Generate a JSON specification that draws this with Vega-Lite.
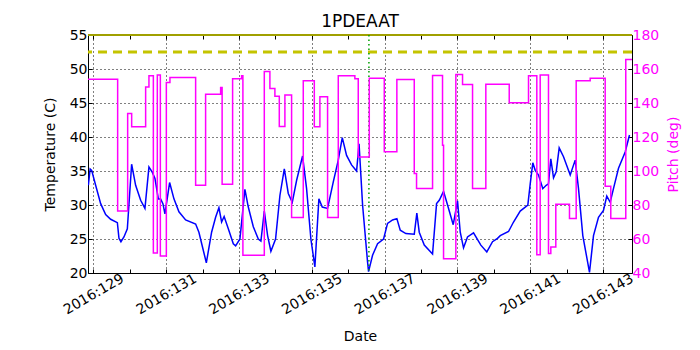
{
  "$schema": "https://vega.github.io/schema/vega-lite/v6.json",
  "width": 544,
  "height": 238,
  "autosize": "none",
  "padding": {"left": 88, "top": 35, "right": 68, "bottom": 77},
  "config": {
    "font": "DejaVu Sans",
    "view": {"stroke": "black", "strokeWidth": 1},
    "axis": {"domain": false, "labelFont": "DejaVu Sans", "titleFont": "DejaVu Sans", "labelFontSize": 14, "titleFontSize": 14, "titleFontWeight": "normal", "labelColor": "black", "titleColor": "black", "tickColor": "black", "labelOverlap": false},
    "axisX": {
      "values": [129, 130, 131, 132, 133, 134, 135, 136, 137, 138, 139, 140, 141, 142, 143],
      "tickSize": -4, "labelFlush": false
    }
  },
  "title": {"text": "1PDEAAT", "fontSize": 17, "fontWeight": "normal", "offset": 0, "dy": 3, "color": "black", "font": "DejaVu Sans"},
  "datasets": {
    "temp": [
      {"day": 128.86, "temp": 32.9}, {"day": 128.909, "temp": 35.3}, {"day": 128.951, "temp": 35.1}, {"day": 129.06, "temp": 32.9},
      {"day": 129.198, "temp": 30.2}, {"day": 129.335, "temp": 28.6}, {"day": 129.473, "temp": 27.9}, {"day": 129.657, "temp": 27.4},
      {"day": 129.701, "temp": 25.1}, {"day": 129.755, "temp": 24.6}, {"day": 129.838, "temp": 25.3}, {"day": 129.931, "temp": 26.5},
      {"day": 130.049, "temp": 36.0}, {"day": 130.159, "temp": 32.9}, {"day": 130.297, "temp": 30.7}, {"day": 130.415, "temp": 29.5},
      {"day": 130.525, "temp": 35.6}, {"day": 130.618, "temp": 34.8}, {"day": 130.69, "temp": 33.9}, {"day": 130.783, "temp": 30.9},
      {"day": 130.846, "temp": 30.9}, {"day": 130.909, "temp": 30.2}, {"day": 130.964, "temp": 28.7}, {"day": 131.093, "temp": 33.3},
      {"day": 131.212, "temp": 30.9}, {"day": 131.349, "temp": 29.0}, {"day": 131.533, "temp": 27.8}, {"day": 131.808, "temp": 27.2},
      {"day": 131.898, "temp": 26.0}, {"day": 132.102, "temp": 21.5}, {"day": 132.247, "temp": 26.0}, {"day": 132.357, "temp": 28.2},
      {"day": 132.448, "temp": 29.6}, {"day": 132.522, "temp": 27.5}, {"day": 132.591, "temp": 28.3}, {"day": 132.706, "temp": 26.5},
      {"day": 132.843, "temp": 24.3}, {"day": 132.907, "temp": 24.0}, {"day": 133.025, "temp": 25.0}, {"day": 133.162, "temp": 32.3},
      {"day": 133.255, "temp": 29.7}, {"day": 133.393, "temp": 26.8}, {"day": 133.53, "temp": 25.0}, {"day": 133.602, "temp": 24.7},
      {"day": 133.695, "temp": 29.1}, {"day": 133.786, "temp": 25.5}, {"day": 133.876, "temp": 23.2}, {"day": 134.005, "temp": 25.0},
      {"day": 134.124, "temp": 31.4}, {"day": 134.245, "temp": 35.3}, {"day": 134.354, "temp": 31.7}, {"day": 134.464, "temp": 30.4},
      {"day": 134.582, "temp": 33.6}, {"day": 134.747, "temp": 37.2}, {"day": 134.857, "temp": 32.4}, {"day": 134.975, "temp": 25.0},
      {"day": 135.085, "temp": 20.9}, {"day": 135.195, "temp": 30.9}, {"day": 135.288, "temp": 29.7}, {"day": 135.434, "temp": 29.5},
      {"day": 135.591, "temp": 33.4}, {"day": 135.728, "temp": 36.6}, {"day": 135.838, "temp": 39.9}, {"day": 135.956, "temp": 37.3},
      {"day": 136.093, "temp": 35.9}, {"day": 136.231, "temp": 35.0}, {"day": 136.299, "temp": 39.0}, {"day": 136.396, "temp": 30.0},
      {"day": 136.533, "temp": 21.6}, {"day": 136.56, "temp": 20.2}, {"day": 136.67, "temp": 22.6}, {"day": 136.808, "temp": 24.3},
      {"day": 136.973, "temp": 25.0}, {"day": 137.082, "temp": 27.3}, {"day": 137.22, "temp": 27.8}, {"day": 137.338, "temp": 28.0},
      {"day": 137.431, "temp": 26.3}, {"day": 137.585, "temp": 25.8}, {"day": 137.816, "temp": 25.7}, {"day": 137.887, "temp": 28.8},
      {"day": 137.953, "temp": 26.0}, {"day": 138.091, "temp": 24.1}, {"day": 138.319, "temp": 22.8}, {"day": 138.429, "temp": 30.2},
      {"day": 138.503, "temp": 30.7}, {"day": 138.621, "temp": 32.0}, {"day": 138.731, "temp": 30.0}, {"day": 138.887, "temp": 27.1},
      {"day": 139.005, "temp": 30.6}, {"day": 139.08, "temp": 26.0}, {"day": 139.17, "temp": 23.7}, {"day": 139.28, "temp": 25.3},
      {"day": 139.445, "temp": 25.9}, {"day": 139.646, "temp": 24.1}, {"day": 139.81, "temp": 23.1}, {"day": 139.967, "temp": 24.6},
      {"day": 140.104, "temp": 25.1}, {"day": 140.179, "temp": 25.5}, {"day": 140.407, "temp": 26.1}, {"day": 140.544, "temp": 27.5},
      {"day": 140.728, "temp": 29.1}, {"day": 140.937, "temp": 30.0}, {"day": 141.003, "temp": 33.1}, {"day": 141.074, "temp": 36.2},
      {"day": 141.14, "temp": 35.1}, {"day": 141.231, "temp": 34.4}, {"day": 141.349, "temp": 32.4}, {"day": 141.442, "temp": 32.9},
      {"day": 141.505, "temp": 33.1}, {"day": 141.569, "temp": 36.8}, {"day": 141.643, "temp": 34.0}, {"day": 141.717, "temp": 34.9},
      {"day": 141.799, "temp": 38.4}, {"day": 141.918, "temp": 37.1}, {"day": 142.102, "temp": 34.4}, {"day": 142.239, "temp": 36.6},
      {"day": 142.33, "temp": 32.4}, {"day": 142.448, "temp": 25.5}, {"day": 142.632, "temp": 20.1}, {"day": 142.742, "temp": 25.5},
      {"day": 142.879, "temp": 28.2}, {"day": 143.016, "temp": 29.2}, {"day": 143.107, "temp": 31.3}, {"day": 143.201, "temp": 30.4},
      {"day": 143.291, "temp": 32.4}, {"day": 143.429, "temp": 35.4}, {"day": 143.613, "temp": 37.8}, {"day": 143.731, "temp": 40.3}
    ],
    "pitch": [
      {"day": 128.85, "pitch": 153.9}, {"day": 129.665, "pitch": 76.5}, {"day": 129.94, "pitch": 133.8}, {"day": 130.05, "pitch": 126.0},
      {"day": 130.434, "pitch": 149.4}, {"day": 130.525, "pitch": 156.0}, {"day": 130.646, "pitch": 51.8}, {"day": 130.755, "pitch": 156.4},
      {"day": 130.838, "pitch": 50.0}, {"day": 131.003, "pitch": 152.0}, {"day": 131.102, "pitch": 155.0}, {"day": 131.808, "pitch": 91.6},
      {"day": 132.082, "pitch": 145.2}, {"day": 132.495, "pitch": 149.1}, {"day": 132.536, "pitch": 92.2}, {"day": 132.824, "pitch": 154.3},
      {"day": 133.071, "pitch": 156.0}, {"day": 133.107, "pitch": 50.4}, {"day": 133.695, "pitch": 158.6}, {"day": 133.849, "pitch": 148.6},
      {"day": 133.986, "pitch": 144.0}, {"day": 134.107, "pitch": 126.2}, {"day": 134.261, "pitch": 144.7}, {"day": 134.445, "pitch": 72.6},
      {"day": 134.766, "pitch": 153.1}, {"day": 135.069, "pitch": 126.0}, {"day": 135.223, "pitch": 143.7}, {"day": 135.434, "pitch": 72.6},
      {"day": 135.728, "pitch": 156.0}, {"day": 136.184, "pitch": 154.3}, {"day": 136.277, "pitch": 108.3}, {"day": 136.58, "pitch": 154.5},
      {"day": 136.992, "pitch": 111.3}, {"day": 137.338, "pitch": 153.8}, {"day": 137.816, "pitch": 98.5}, {"day": 137.879, "pitch": 89.7},
      {"day": 138.319, "pitch": 156.2}, {"day": 138.593, "pitch": 115.2}, {"day": 138.621, "pitch": 48.4}, {"day": 138.959, "pitch": 156.8},
      {"day": 139.143, "pitch": 150.9}, {"day": 139.418, "pitch": 89.7}, {"day": 139.783, "pitch": 151.1}, {"day": 140.426, "pitch": 140.1},
      {"day": 140.956, "pitch": 156.0}, {"day": 141.184, "pitch": 50.8}, {"day": 141.277, "pitch": 156.4}, {"day": 141.505, "pitch": 51.4},
      {"day": 141.569, "pitch": 55.3}, {"day": 141.706, "pitch": 80.4}, {"day": 142.082, "pitch": 72.0}, {"day": 142.266, "pitch": 153.1},
      {"day": 142.651, "pitch": 154.5}, {"day": 143.063, "pitch": 91.0}, {"day": 143.217, "pitch": 72.0}, {"day": 143.629, "pitch": 165.6},
      {"day": 143.8, "pitch": 165.6}
    ],
    "limits": [
      {"limit": 52.5, "kind": "planning"},
      {"limit": 55.0, "kind": "caution"}
    ],
    "events": [
      {"day": 136.57}
    ]
  },
  "layer": [
    {
      "layer": [
        {
          "data": {"name": "temp"},
          "mark": {"type": "line", "color": "#0000ff", "strokeWidth": 1.5, "clip": true},
          "encoding": {
            "x": {
              "field": "day", "type": "quantitative",
              "scale": {"domain": [128.85, 143.8], "nice": false, "zero": false},
              "axis": {
                "labelExpr": "(datum.value - 129) % 2 == 0 ? '2016:' + datum.value : ''",
                "labelAngle": -30, "labelAlign": "center", "labelBaseline": "middle",
                "labelPadding": 25,
                "grid": true, "gridColor": "black", "gridDash": [1, 3], "gridWidth": 1,
                "gridOpacity": {"condition": {"test": "(datum.value - 129) % 2 == 0", "value": 1}, "value": 0},
                "title": "Date", "titleX": 272, "titleY": 63, "titleBaseline": "middle", "titleAlign": "center"
              }
            },
            "y": {
              "field": "temp", "type": "quantitative",
              "scale": {"domain": [20, 55], "nice": false, "zero": false},
              "axis": {
                "values": [20, 25, 30, 35, 40, 45, 50, 55],
                "tickSize": -4, "labelPadding": 5,
                "grid": true, "gridColor": "black", "gridDash": [1, 3], "gridWidth": 1,
                "title": "Temperature (C)", "titleX": -38, "titleY": 119, "titleBaseline": "middle", "titleAlign": "center", "titleAngle": 270
              }
            }
          }
        },
        {
          "data": {"name": "limits"},
          "mark": {"type": "rule", "clip": false},
          "encoding": {
            "y": {
              "field": "limit", "type": "quantitative",
              "axis": {
                "values": [20, 25, 30, 35, 40, 45, 50, 55],
                "tickSize": -4, "labelPadding": 5,
                "grid": true, "gridColor": "black", "gridDash": [1, 3], "gridWidth": 1,
                "title": "Temperature (C)", "titleX": -38, "titleY": 119, "titleBaseline": "middle", "titleAlign": "center", "titleAngle": 270
              }
            },
            "color": {"field": "kind", "type": "nominal", "scale": {"domain": ["planning", "caution"], "range": ["#c4c400", "#a0a000"]}, "legend": null},
            "strokeDash": {"field": "kind", "type": "nominal", "scale": {"domain": ["planning", "caution"], "range": [[9, 6], [1, 0]]}, "legend": null},
            "strokeWidth": {"field": "kind", "type": "nominal", "scale": {"domain": ["planning", "caution"], "range": [3, 2]}, "legend": null}
          }
        },
        {
          "data": {"name": "events"},
          "mark": {"type": "rule", "color": "#00a000", "strokeWidth": 1.5, "strokeDash": [1.5, 3]},
          "encoding": {
            "x": {
              "field": "day", "type": "quantitative",
              "axis": {
                "labelExpr": "(datum.value - 129) % 2 == 0 ? '2016:' + datum.value : ''",
                "labelAngle": -30, "labelAlign": "center", "labelBaseline": "middle",
                "labelPadding": 25,
                "grid": true, "gridColor": "black", "gridDash": [1, 3], "gridWidth": 1,
                "gridOpacity": {"condition": {"test": "(datum.value - 129) % 2 == 0", "value": 1}, "value": 0},
                "title": "Date", "titleX": 272, "titleY": 63, "titleBaseline": "middle", "titleAlign": "center"
              }
            }
          }
        }
      ]
    },
    {
      "data": {"name": "pitch"},
      "mark": {"type": "line", "interpolate": "step-after", "color": "#ff00ff", "strokeWidth": 1.5, "clip": true},
      "encoding": {
        "x": {
          "field": "day", "type": "quantitative",
          "axis": {"orient": "top", "labels": false, "grid": false, "title": null}
        },
        "y": {
          "field": "pitch", "type": "quantitative",
          "scale": {"domain": [40, 180], "nice": false, "zero": false},
          "axis": {
            "orient": "right",
            "values": [40, 60, 80, 100, 120, 140, 160, 180],
            "tickSize": -4, "labelPadding": 4, "grid": false,
            "labelColor": "#ff00ff", "titleColor": "#ff00ff",
            "title": "Pitch (deg)", "titleX": 41, "titleY": 119, "titleBaseline": "middle", "titleAlign": "center", "titleAngle": 270
          }
        }
      }
    }
  ],
  "resolve": {"scale": {"y": "independent"}, "axis": {"x": "independent"}}
}
